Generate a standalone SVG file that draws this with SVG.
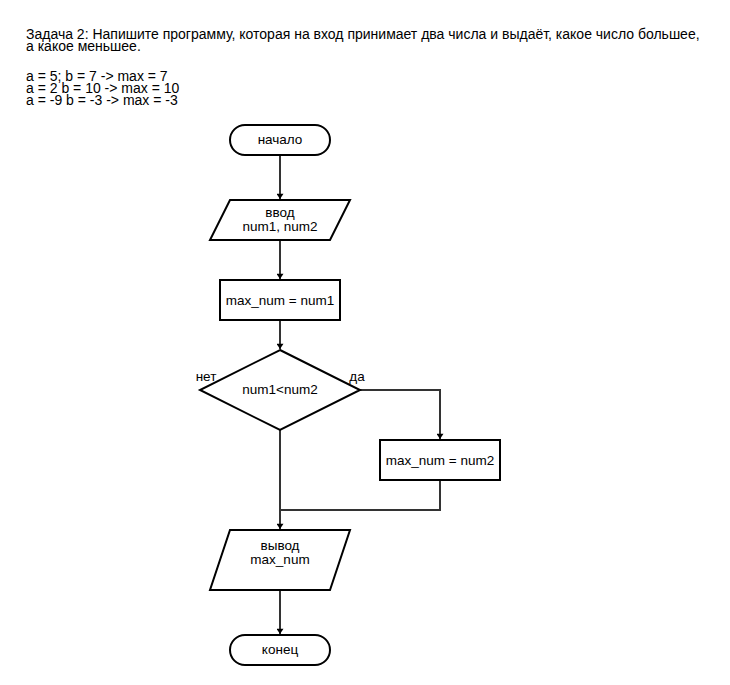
<svg xmlns="http://www.w3.org/2000/svg" width="730" height="685" viewBox="0 0 730 685">
  <style>
    .hdr { font-family: "Liberation Sans", Arial, sans-serif; font-size: 14px; fill: #000; }
    .lbl { font-family: "Liberation Sans", Arial, sans-serif; font-size: 13.5px; fill: #000; text-anchor: middle; }
    .shape { fill: #fff; stroke: #000; stroke-width: 2; }
    .edge { fill: none; stroke: #333; stroke-width: 2; }
  </style>
  <defs>
    <marker id="arrow" viewBox="0 0 6 8" refX="6" refY="4" markerWidth="6" markerHeight="7" markerUnits="userSpaceOnUse" orient="auto">
      <path d="M0,0 L6,4 L0,8 Z" fill="#000"/>
    </marker>
  </defs>
  <rect width="730" height="685" fill="#fff"/>

  <!-- task statement -->
  <g id="task">
    <text class="hdr" x="26" y="39">Задача 2: Напишите программу, которая на вход принимает два числа и выдаёт, какое число большее,</text>
    <text class="hdr" x="26" y="51">а какое меньшее.</text>
    <text class="hdr" x="26" y="81">a = 5; b = 7 -&gt; max = 7</text>
    <text class="hdr" x="26" y="93">a = 2 b = 10 -&gt; max = 10</text>
    <text class="hdr" x="26" y="105">a = -9 b = -3 -&gt; max = -3</text>
  </g>

  <!-- connectors -->
  <g id="connectors">
    <path class="edge" d="M280,155 V199" marker-end="url(#arrow)"/>
    <path class="edge" d="M280,240 V279" marker-end="url(#arrow)"/>
    <path class="edge" d="M280,320 V349" marker-end="url(#arrow)"/>
    <path class="edge" d="M360,390 H440 V439" marker-end="url(#arrow)"/>
    <path class="edge" d="M280,430 V529" marker-end="url(#arrow)"/>
    <path class="edge" d="M440,480 V510 H280"/>
    <path class="edge" d="M280,590 V634" marker-end="url(#arrow)"/>
    <text class="lbl" x="206" y="381">нет</text>
    <text class="lbl" x="357" y="381">да</text>
  </g>

  <g id="start">
    <rect class="shape" x="230" y="125" width="100" height="30" rx="15" ry="15"/>
    <text class="lbl" x="280" y="144">начало</text>
  </g>

  <g id="input">
    <path class="shape" d="M230,200 H350 L330,240 H210 Z"/>
    <text class="lbl" x="280" y="217">ввод</text>
    <text class="lbl" x="280" y="231">num1, num2</text>
  </g>

  <g id="assign1">
    <rect class="shape" x="220" y="280" width="120" height="40"/>
    <text class="lbl" x="280" y="305">max_num = num1</text>
  </g>

  <g id="cond">
    <path class="shape" d="M280,350 L360,390 L280,430 L200,390 Z"/>
    <text class="lbl" x="280" y="394">num1&lt;num2</text>
  </g>

  <g id="assign2">
    <rect class="shape" x="380" y="440" width="120" height="40"/>
    <text class="lbl" x="440" y="465">max_num = num2</text>
  </g>

  <g id="output">
    <path class="shape" d="M230,530 H350 L330,590 H210 Z"/>
    <text class="lbl" x="280" y="550">вывод</text>
    <text class="lbl" x="280" y="564">max_num</text>
  </g>

  <g id="end">
    <rect class="shape" x="230" y="635" width="100" height="30" rx="15" ry="15"/>
    <text class="lbl" x="280" y="654">конец</text>
  </g>
</svg>
